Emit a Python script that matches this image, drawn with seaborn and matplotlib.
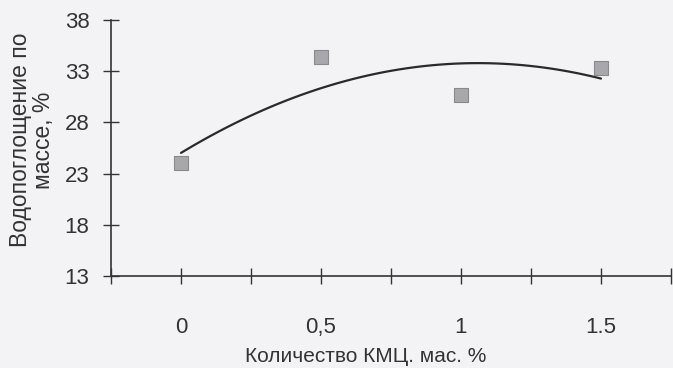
import numpy as np
import pandas as pd
import matplotlib
matplotlib.use("Agg")
import matplotlib.pyplot as plt
import seaborn as sns

# data
cmc = [0, 0.5, 1, 1.5]
water_abs = [24.0, 34.4, 30.7, 33.3]
x_ticks = [-0.25, 0, 0.25, 0.5, 0.75, 1, 1.25, 1.5, 1.75]
x_ticklabels = ["", "0", "", "0,5", "", "1", "", "1.5", ""]
y_ticks = [13, 18, 23, 28, 33, 38]

sns.set_theme(style="ticks")
plt.rcParams["font.family"] = ["Liberation Sans Narrow", "Liberation Sans", "DejaVu Sans"]

df = pd.DataFrame({"cmc": cmc, "wa": water_abs})

# second order trend line, as in the original
coef = np.polyfit(df["cmc"], df["wa"], 2)
xs = np.linspace(min(cmc), max(cmc), 100)
trend = pd.DataFrame({"cmc": xs, "wa": np.polyval(coef, xs)})

bg = "#f3f3f5"
fig = plt.figure(figsize=(6.73, 3.68), dpi=100, facecolor=bg)
ax = fig.add_axes([111 / 673, 1 - 276 / 368, 560 / 673, 256 / 368])
ax.set_facecolor(bg)

sns.lineplot(data=trend, x="cmc", y="wa", ax=ax, color="#2a2a2a", lw=1.6)
sns.scatterplot(data=df, x="cmc", y="wa", ax=ax, marker="s", s=110,
                color="#a8a8ac", edgecolor="#8a8a8e", linewidth=0.8, zorder=3)

ax.set_xlim(-0.25, 1.75)
ax.set_ylim(13, 38)
ax.set_xticks(x_ticks)
ax.set_xticklabels(x_ticklabels)
ax.set_yticks(y_ticks)
ax.tick_params(axis="both", direction="inout", length=11, width=1.0,
               color="#333333", labelsize=16, labelcolor="#333333")
ax.tick_params(axis="x", pad=24)
ax.tick_params(axis="y", pad=10)
for side in ["top", "right"]:
    ax.spines[side].set_visible(False)
for side in ["left", "bottom"]:
    ax.spines[side].set_color("#333333")
    ax.spines[side].set_linewidth(1.2)
ax.set_xlabel("")
ax.set_ylabel("")

fig.text(32 / 673, 1 - 140 / 368, "Водопоглощение по\nмассе, %", rotation=90,
         ha="center", va="center", multialignment="center",
         fontsize=16.5, color="#333333", linespacing=1.0)
fig.text(366 / 673, 1 - 357 / 368, "Количество КМЦ. мас. %", ha="center",
         va="center", fontsize=15, color="#333333")

fig.savefig("out.png", dpi=100, facecolor=bg)
plt.close(fig)
